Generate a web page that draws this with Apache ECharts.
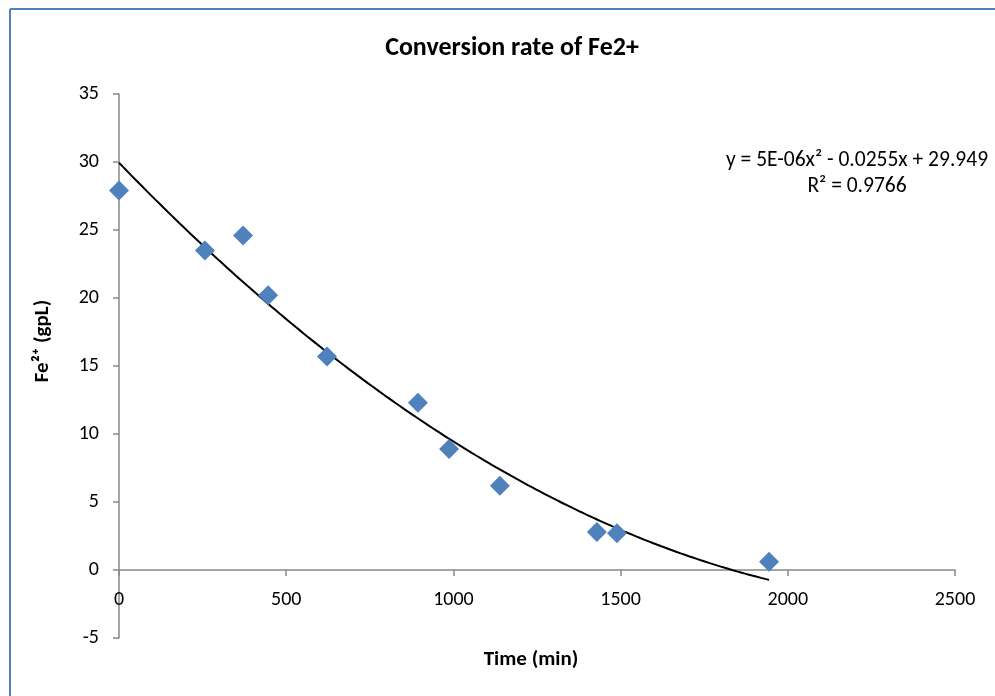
<!DOCTYPE html>
<html>
<head>
<meta charset="utf-8">
<script src="https://cdn.jsdelivr.net/npm/echarts@6/dist/echarts.min.js"></script>
<style>
  html, body { margin: 0; padding: 0; background: #fff; }
  #chart { width: 995px; height: 696px; }
</style>
</head>
<body>
<div id="chart"></div>
<script>
// Measured Fe2+ concentration over time
const timeMin = [0, 257, 371, 446, 622, 894, 987, 1139, 1429, 1489, 1944];
const fe2Conc = [27.9, 23.5, 24.6, 20.2, 15.7, 12.3, 8.9, 6.2, 2.8, 2.7, 0.6];

// Polynomial trendline coefficients (y = a*x^2 + b*x + c), as printed on the chart
const trendCoef = { a: 5e-6, b: -0.0255, c: 29.949 };
const trendR2 = '0.9766';

const xTicks = { min: 0, max: 2500, step: 500 };
const yTicks = { min: -5, max: 35, step: 5 };

const FONT = 'Carlito, Lato, "Open Sans", sans-serif';

const points = timeMin.map((t, i) => [t, fe2Conc[i]]);

// Trendline spans the measured time range
const trend = [];
const tEnd = timeMin[timeMin.length - 1];
for (let t = 0; t <= tEnd; t += 12) {
  trend.push([t, trendCoef.a * t * t + trendCoef.b * t + trendCoef.c]);
}
trend.push([tEnd, trendCoef.a * tEnd * tEnd + trendCoef.b * tEnd + trendCoef.c]);

const eqLine = 'y = 5E-06x² - 0.0255x + 29.949';
const r2Line = 'R² = ' + trendR2;

const plain = v => String(v);

const chart = echarts.init(document.getElementById('chart'));
chart.setOption({
  backgroundColor: '#fff',
  animation: false,
  title: {
    text: 'Conversion rate of Fe2+',
    left: 507, top: 30, textAlign: 'center',
    textStyle: { fontFamily: FONT, fontSize: 26, fontWeight: 'bold', color: '#000' }
  },
  grid: { left: 119, right: 40, top: 94, bottom: 58, containLabel: false, outerBoundsMode: 'none' },
  xAxis: {
    type: 'value',
    min: xTicks.min, max: xTicks.max, interval: xTicks.step,
    name: 'Time (min)', nameLocation: 'middle', nameGap: 11, nameMoveOverlap: false,
    nameTextStyle: { fontFamily: FONT, fontSize: 21, fontWeight: 'bold', color: '#000', padding: [0, 12, 0, 0] },
    axisLine: { onZero: true, lineStyle: { color: '#888', width: 1.5 } },
    axisTick: { show: true, length: 6, lineStyle: { color: '#888', width: 1.5 } },
    // labels sit just under the zero line
    axisLabel: { margin: -48, fontFamily: FONT, fontSize: 20, color: '#000', formatter: plain },
    splitLine: { show: false }
  },
  yAxis: {
    type: 'value',
    min: yTicks.min, max: yTicks.max, interval: yTicks.step,
    axisLine: { show: true, onZero: false, lineStyle: { color: '#888', width: 1.5 } },
    axisTick: { show: true, length: 6, lineStyle: { color: '#888', width: 1.5 } },
    axisLabel: { margin: 20, fontFamily: FONT, fontSize: 20, color: '#000', formatter: plain },
    splitLine: { show: false }
  },
  series: [
    {
      type: 'line',
      data: trend,
      showSymbol: false,
      smooth: false,
      lineStyle: { color: '#000', width: 2 },
      z: 3
    },
    {
      type: 'scatter',
      data: points,
      symbol: 'diamond',
      symbolSize: [20, 20],
      itemStyle: { color: '#4F81BD', opacity: 1 },
      z: 4
    }
  ],
  graphic: [
    // Outer chart frame (top and left edges)
    { type: 'line', shape: { x1: 10, y1: 9, x2: 995, y2: 9 }, style: { stroke: '#4F81BD', lineWidth: 2 } },
    { type: 'line', shape: { x1: 10, y1: 9, x2: 10, y2: 696 }, style: { stroke: '#4F81BD', lineWidth: 2 } },
    // Y axis title
    {
      type: 'text', x: 43, y: 341, rotation: Math.PI / 2,
      style: {
        text: 'Fe²⁺ (gpL)', align: 'center', verticalAlign: 'middle',
        fontFamily: FONT, fontSize: 21, fontWeight: 'bold', fill: '#000'
      }
    },
    // Trendline equation
    {
      type: 'text', x: 857, y: 148,
      style: {
        text: eqLine + '\n' + r2Line,
        align: 'center', fontFamily: FONT, fontSize: 21.5, lineHeight: 26, fill: '#000'
      }
    }
  ]
});
</script>
</body>
</html>
